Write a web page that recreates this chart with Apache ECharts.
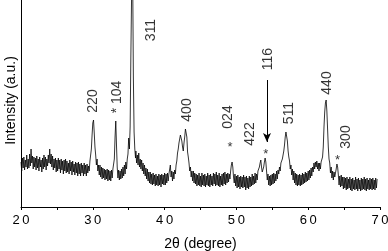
<!DOCTYPE html>
<html>
<head>
<meta charset="utf-8">
<script src="https://cdn.jsdelivr.net/npm/echarts@6/dist/echarts.min.js"></script>
<style>
html,body{margin:0;padding:0;background:#fff;}
#chart{width:388px;height:251px;}
</style>
</head>
<body>
<div id="chart"></div>
<script>
// XRD scan: [2theta (degree), intensity (a.u.)]
const xrdScan = [
[20.0,45],[20.1,36],[20.2,49],[20.3,39],[20.4,50],[20.5,37],[20.6,47],[20.7,40],[20.8,52],[20.9,38],
[21.0,48],[21.1,39],[21.2,53],[21.3,41],[21.4,58],[21.5,44],[21.6,51],[21.7,38],[21.8,50],[21.9,40],
[22.0,49],[22.1,37],[22.2,51],[22.3,39],[22.4,48],[22.5,36],[22.6,50],[22.7,40],[22.8,47],[22.9,35],
[23.0,49],[23.1,38],[23.2,52],[23.3,40],[23.4,50],[23.5,37],[23.6,48],[23.7,41],[23.8,52],[23.9,44],
[24.0,58],[24.1,43],[24.2,53],[24.3,40],[24.4,51],[24.5,37],[24.6,48],[24.7,39],[24.8,49],[24.9,35],
[25.0,47],[25.1,36],[25.2,49],[25.3,38],[25.4,47],[25.5,34],[25.6,48],[25.7,37],[25.8,46],[25.9,33],
[26.0,47],[26.1,36],[26.2,48],[26.3,34],[26.4,46],[26.5,35],[26.6,44],[26.7,33],[26.8,47],[26.9,36],
[27.0,45],[27.1,32],[27.2,46],[27.3,35],[27.4,43],[27.5,32],[27.6,45],[27.7,34],[27.8,44],[27.9,31],
[28.0,45],[28.1,33],[28.2,43],[28.3,31],[28.4,44],[28.5,34],[28.6,42],[28.7,31],[28.8,44],[28.9,33],
[29.0,42],[29.1,31],[29.2,43],[29.3,34],[29.4,41],[29.5,36],[29.6,46],[29.7,48],[29.8,58],[29.9,72],
[30.0,84],[30.1,87],[30.2,74],[30.3,60],[30.4,52],[30.5,42],[30.6,48],[30.7,36],[30.8,42],[30.9,32],
[31.0,42],[31.1,30],[31.2,40],[31.3,28],[31.4,39],[31.5,29],[31.6,38],[31.7,27],[31.8,37],[31.9,28],
[32.0,38],[32.1,26],[32.2,37],[32.3,27],[32.4,36],[32.5,26],[32.6,37],[32.7,29],[32.8,38],[32.9,36],
[33.0,48],[33.1,70],[33.2,86],[33.3,62],[33.4,40],[33.5,29],[33.6,37],[33.7,27],[33.8,36],[33.9,28],
[34.0,38],[34.1,29],[34.2,40],[34.3,31],[34.4,42],[34.5,33],[34.6,45],[34.7,38],[34.8,48],[34.9,53],
[35.0,69],[35.1,58],[35.2,80],[35.3,150],[35.45,240],[35.55,235],[35.65,130],[35.75,75],[35.85,58],[35.95,49],
[36.0,56],[36.1,44],[36.2,52],[36.3,42],[36.4,54],[36.5,40],[36.6,48],[36.7,38],[36.8,47],[36.9,36],
[37.0,44],[37.1,33],[37.2,42],[37.3,31],[37.4,39],[37.5,28],[37.6,38],[37.7,26],[37.8,35],[37.9,24],
[38.0,35],[38.1,23],[38.2,33],[38.3,22],[38.4,34],[38.5,23],[38.6,32],[38.7,21],[38.8,33],[38.9,22],
[39.0,31],[39.1,21],[39.2,33],[39.3,22],[39.4,32],[39.5,20],[39.6,33],[39.7,23],[39.8,32],[39.9,22],
[40.0,34],[40.1,22],[40.2,33],[40.3,24],[40.4,34],[40.5,26],[40.6,33],[40.7,34],[40.8,42],[40.9,30],
[41.0,36],[41.1,26],[41.2,35],[41.3,28],[41.4,37],[41.5,33],[41.6,42],[41.7,46],[41.8,54],[41.9,58],
[42.0,64],[42.1,62],[42.2,72],[42.3,74],[42.4,66],[42.5,60],[42.6,56],[42.7,64],[42.8,70],[42.9,78],
[43.0,79],[43.1,70],[43.2,55],[43.3,50],[43.4,44],[43.5,36],[43.6,40],[43.7,30],[43.8,36],[43.9,26],
[44.0,36],[44.1,24],[44.2,34],[44.3,23],[44.4,33],[44.5,21],[44.6,32],[44.7,22],[44.8,34],[44.9,21],
[45.0,31],[45.1,20],[45.2,34],[45.3,22],[45.4,32],[45.5,21],[45.6,33],[45.7,20],[45.8,31],[45.9,22],
[46.0,34],[46.1,21],[46.2,32],[46.3,20],[46.4,33],[46.5,22],[46.6,31],[46.7,21],[46.8,34],[46.9,23],
[47.0,33],[47.1,21],[47.2,35],[47.3,22],[47.4,32],[47.5,21],[47.6,34],[47.7,20],[47.8,31],[47.9,22],
[48.0,33],[48.1,21],[48.2,34],[48.3,23],[48.4,35],[48.5,22],[48.6,33],[48.7,24],[48.8,34],[48.9,25],
[49.0,33],[49.1,28],[49.2,36],[49.3,42],[49.4,45],[49.5,40],[49.6,30],[49.7,24],[49.8,33],[49.9,21],
[50.0,31],[50.1,19],[50.2,32],[50.3,20],[50.4,30],[50.5,18],[50.6,31],[50.7,20],[50.8,30],[50.9,19],
[51.0,32],[51.1,20],[51.2,30],[51.3,17],[51.4,31],[51.5,19],[51.6,29],[51.7,18],[51.8,31],[51.9,20],
[52.0,30],[52.1,21],[52.2,33],[52.3,22],[52.4,31],[52.5,23],[52.6,34],[52.7,24],[52.8,33],[52.9,27],
[53.0,36],[53.1,34],[53.2,40],[53.3,44],[53.4,47],[53.5,40],[53.6,35],[53.7,36],[53.8,40],[53.9,45],
[54.0,49],[54.1,45],[54.2,36],[54.3,27],[54.4,33],[54.5,22],[54.6,31],[54.7,21],[54.8,32],[54.9,22],
[55.0,33],[55.1,23],[55.2,34],[55.3,24],[55.4,33],[55.5,26],[55.6,36],[55.7,28],[55.8,37],[55.9,33],
[56.0,40],[56.1,36],[56.2,44],[56.3,42],[56.4,48],[56.5,50],[56.6,56],[56.7,62],[56.8,70],[56.9,75],
[57.0,77],[57.1,66],[57.2,56],[57.3,50],[57.4,46],[57.5,38],[57.6,42],[57.7,32],[57.8,38],[57.9,27],
[58.0,36],[58.1,24],[58.2,34],[58.3,22],[58.4,33],[58.5,21],[58.6,32],[58.7,22],[58.8,33],[58.9,21],
[59.0,32],[59.1,22],[59.2,34],[59.3,23],[59.4,33],[59.5,24],[59.6,35],[59.7,25],[59.8,34],[59.9,26],
[60.0,36],[60.1,27],[60.2,37],[60.3,29],[60.4,39],[60.5,31],[60.6,40],[60.7,35],[60.8,44],[60.9,38],
[61.0,45],[61.1,40],[61.2,46],[61.3,38],[61.4,44],[61.5,36],[61.6,44],[61.7,38],[61.8,45],[61.9,44],
[62.0,50],[62.1,60],[62.2,80],[62.3,95],[62.4,104],[62.5,107],[62.6,96],[62.7,78],[62.8,60],[62.9,48],
[63.0,44],[63.1,34],[63.2,40],[63.3,29],[63.4,36],[63.5,27],[63.6,35],[63.7,30],[63.8,34],[63.9,38],
[64.0,43],[64.1,40],[64.2,32],[64.3,22],[64.4,31],[64.5,20],[64.6,32],[64.7,21],[64.8,30],[64.9,18],
[65.0,30],[65.1,19],[65.2,29],[65.3,17],[65.4,30],[65.5,18],[65.6,28],[65.7,19],[65.8,30],[65.9,17],
[66.0,28],[66.1,16],[66.2,29],[66.3,18],[66.4,27],[66.5,17],[66.6,30],[66.7,18],[66.8,28],[66.9,16],
[67.0,29],[67.1,18],[67.2,27],[67.3,16],[67.4,29],[67.5,17],[67.6,28],[67.7,18],[67.8,30],[67.9,17],
[68.0,28],[68.1,16],[68.2,29],[68.3,18],[68.4,27],[68.5,17],[68.6,29],[68.7,18],[68.8,28],[68.9,17],
[69.0,29],[69.1,18],[69.2,27],[69.3,17],[69.4,29],[69.5,19],[69.6,28]
];

// Reflection labels (rotated) : text, 2theta anchor, intensity anchor
const labelText  = ['220', '* 104', '311', '400', '024', '422', '116', '511', '440', '300'];
const labelAngle = [30.07, 33.37, 38.06, 43.2, 48.83, 51.9, 54.4, 57.33, 62.66, 65.26];
const labelLevel = [106, 110, 177, 97, 90, 73, 148, 94, 124, 70];

// Impurity asterisks
const starAngle = [49.1, 54.08, 64.1];
const starLevel = [60, 53, 47];

// Arrow pointing to the 116 reflection
const arrowAngle = 54.26;
const arrowFrom = 127;
const arrowTo = 65;

const xMin = 20, xMax = 70, xStep = 10;
const yMax = 207;

const chart = echarts.init(document.getElementById('chart'), null, {renderer: 'canvas'});
const font = 'Liberation Sans, Arial, Helvetica, sans-serif';

chart.setOption({
  animation: false,
  backgroundColor: '#fff',
  grid: {left: 21, right: 8, top: 0, bottom: 44, containLabel: false, outerBoundsMode: 'none'},
  xAxis: {
    type: 'value', min: xMin, max: xMax, interval: xStep,
    name: '2θ (degree)', nameLocation: 'middle', nameGap: 30,
    nameTextStyle: {color: '#000', fontSize: 14, fontFamily: font},
    axisLine: {show: true, lineStyle: {color: '#000', width: 1}},
    axisTick: {show: true, inside: false, length: 3, lineStyle: {color: '#000'}},
    minorTick: {show: true, splitNumber: 2, length: 3, lineStyle: {color: '#000'}},
    axisLabel: {color: '#000', fontSize: 13, fontFamily: font, margin: 7,
      formatter: v => String(v).split('').join('\u2009')},
    splitLine: {show: false}
  },
  yAxis: {
    type: 'value', min: 0, max: yMax,
    name: 'Intensity (a.u.)', nameLocation: 'middle', nameGap: 3,
    nameTextStyle: {color: '#000', fontSize: 14, fontFamily: font, padding: [0, 0, 0, 6]},
    axisLine: {show: true, lineStyle: {color: '#000', width: 1}},
    axisTick: {show: false},
    axisLabel: {show: false},
    splitLine: {show: false}
  },
  series: [
    {
      type: 'line',
      data: xrdScan,
      showSymbol: false,
      clip: true,
      lineStyle: {color: '#000', width: 0.8},
      markLine: {
        silent: true,
        symbol: ['none', 'arrow'],
        symbolSize: [6, 9],
        label: {show: false},
        lineStyle: {color: '#000', width: 1, type: 'solid'},
        data: [[{coord: [arrowAngle, arrowFrom]}, {coord: [arrowAngle, arrowTo]}]]
      }
    },
    {
      type: 'scatter',
      symbolSize: 0,
      silent: true,
      data: labelText.map((t, i) => ({name: t, value: [labelAngle[i], labelLevel[i]]})),
      label: {
        show: true, position: 'inside', rotate: 90, formatter: '{b}',
        align: 'center', verticalAlign: 'middle',
        color: '#000', fontSize: 14, fontFamily: font
      }
    },
    {
      type: 'scatter',
      symbolSize: 0,
      silent: true,
      data: starAngle.map((a, i) => ({name: '*', value: [a, starLevel[i]]})),
      label: {
        show: true, position: 'inside', formatter: '{b}',
        align: 'center', verticalAlign: 'middle',
        color: '#000', fontSize: 13, fontFamily: font
      }
    }
  ]
});
</script>
</body>
</html>
